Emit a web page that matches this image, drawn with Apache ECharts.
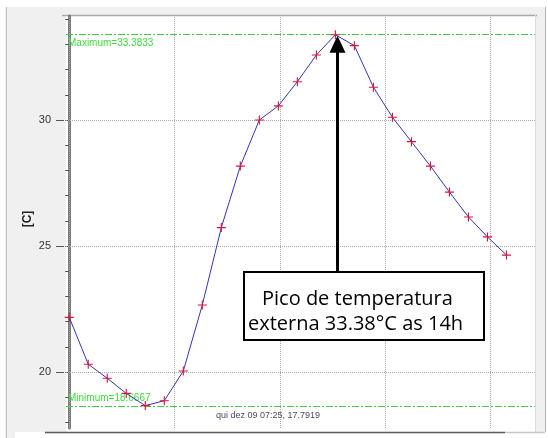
<!DOCTYPE html>
<html><head><meta charset="utf-8">
<script src="https://cdn.jsdelivr.net/npm/echarts@6/dist/echarts.min.js"></script>
<style>html,body{margin:0;padding:0;background:#fff}#c{width:548px;height:438px}</style>
</head><body><div id="c"></div>
<script>
const sampleHours = [0,1,2,3,4,5,6,7,8,9,10,11,12,13,14,15,16,17,18,19,20,21,22,23];
const temperatures = [22.17,20.31,19.75,19.15,18.6667,18.86,20.04,22.66,25.73,28.17,30.0,30.56,31.52,32.58,33.3833,32.95,31.30,30.11,29.14,28.17,27.14,26.15,25.36,24.64];
const yMajorTicks = [20,25,30];
const yMinorTicks = [18,19,20,21,22,23,24,25,26,27,28,29,30,31,32,33,34];
const xGridTicks = [0,5.54,11.08,16.62,22.15];
const maxValue = 33.3833;
const minValue = 18.6667;
const maxLabel = 'Maximum=33.3833';
const minLabel = 'Minimum=18.6667';
const annotationLines = ['Pico de temperatura','externa 33.38°C as 14h'];
const cursorText = 'qui dez 09 07:25, 17.7919';
const yName = '[C]';

const chart = echarts.init(document.getElementById('c'), null, {renderer:'canvas'});
const X_MIN = -0.17, X_MAX = 24.5;
const Y_MIN = 17.778, Y_MAX = 34.127;
const GREEN = '#44cc44';
function gridDotted(){ return {type:'dotted', color:'#a8a8a8', width:1}; }

const bg = [
  {type:'rect', z:-10, shape:{x:0,y:0,width:548,height:7}, style:{fill:'#ffffff'}},
  {type:'rect', z:-10, shape:{x:0,y:0,width:5,height:438}, style:{fill:'#ffffff'}},
  {type:'rect', z:-10, shape:{x:546,y:0,width:2,height:438}, style:{fill:'#ffffff'}},
  {type:'rect', z:-10, shape:{x:15,y:432,width:533,height:6}, style:{fill:'#ffffff'}},
  {type:'line', z:-9, shape:{x1:6.5,y1:7,x2:6.5,y2:438}, style:{stroke:'#c4c4c4',lineWidth:1}},
  {type:'line', z:-9, shape:{x1:545.5,y1:7,x2:545.5,y2:432}, style:{stroke:'#b4b4b4',lineWidth:1}},
  {type:'rect', z:-8, shape:{x:66,y:16,width:469,height:416}, style:{fill:'#ffffff'}},
  {type:'line', z:-7, shape:{x1:62,y1:15.5,x2:537,y2:15.5}, style:{stroke:'#a8a8a8',lineWidth:1.5}},
  {type:'line', z:-7, shape:{x1:535.5,y1:15,x2:535.5,y2:432}, style:{stroke:'#dcdcdc',lineWidth:1}},
  {type:'line', z:-7, shape:{x1:45,y1:432.5,x2:505,y2:432.5}, style:{stroke:'#5a5a5a',lineWidth:1.5}},
  {type:'line', z:-7, shape:{x1:505,y1:432.5,x2:545,y2:432.5}, style:{stroke:'#c8c8c8',lineWidth:1.5}},
  {type:'text', z:50, x:216, y:416, style:{text:cursorText, fill:'#4a4a68', font:'9px "Liberation Sans", Arial, sans-serif', verticalAlign:'middle'}},
  {type:'text', z:50, x:28, y:219, rotation:Math.PI/2,
   style:{text:yName, fill:'#222', font:'bold 12px "Liberation Sans", Arial, sans-serif', align:'center', verticalAlign:'middle'}}
];

const option = {
  backgroundColor:'#f0f0f0',
  animation:false,
  grid:{left:66, right:13, top:16, bottom:10, containLabel:false},
  xAxis:{type:'value', min:X_MIN, max:X_MAX, axisLine:{show:false}, axisTick:{show:false}, axisLabel:{show:false}, splitLine:{show:false}},
  yAxis:[
    {type:'value', min:Y_MIN, max:Y_MAX, position:'left', offset:2,
     axisLine:{show:true, lineStyle:{color:'#7a7a7a', width:3}},
     axisTick:{show:true, customValues:yMinorTicks, length:4, lineStyle:{color:'#555', width:1}},
     axisLabel:{show:false}, splitLine:{show:false}},
    {type:'value', min:Y_MIN, max:Y_MAX, position:'left', offset:2,
     axisLine:{show:false},
     axisTick:{show:true, customValues:yMajorTicks, length:8, lineStyle:{color:'#555', width:1}},
     axisLabel:{show:true, customValues:yMajorTicks, margin:13, color:'#333', fontSize:11, fontFamily:'"Liberation Sans", Arial, sans-serif'},
     splitLine:{show:false}}
  ],
  series:[
    {type:'line', data:[], silent:true, z:1,
     markLine:{silent:true, symbol:'none', animation:false, label:{show:false}, lineStyle:gridDotted(),
       data: xGridTicks.map(v=>({xAxis:v, lineStyle:gridDotted()})).concat(yMajorTicks.map(v=>({yAxis:v, lineStyle:gridDotted()})))}},
    {type:'line', z:5, yAxisIndex:0,
     data: sampleHours.map((h,i)=>[h, temperatures[i]]),
     symbol:'path://M3.5,0h1v8h-1z M0,3.5h8v1h-8z', symbolSize:9, showSymbol:true,
     itemStyle:{color:'#d8163a'},
     lineStyle:{color:'#3535b5', width:1}}
  ],
  graphic: bg
};
chart.setOption(option);

// reference lines (max / min) placed through the axis scales, snapped outward to a pixel row
function refLineGraphics(value, label, dy, snap) {
  const p0 = chart.convertToPixel({gridIndex:0}, [X_MIN, value]);
  const p1 = chart.convertToPixel({gridIndex:0}, [X_MAX, value]);
  const y = snap(p0[1]) + 0.5;
  return [
    {type:'line', z:3, shape:{x1:p0[0], y1:y, x2:p1[0], y2:y},
     style:{stroke:GREEN, lineWidth:1, lineDash:[7,2,2,2]}},
    {type:'text', z:4, x:p0[0]+2, y:y+dy,
     style:{text:label, fill:'#3fdc3f', font:'10px "Liberation Sans Narrow","Liberation Sans", Arial, sans-serif', verticalAlign:'middle'}}
  ];
}

// annotation anchored to peak
let pk = 0;
for (let i=1;i<temperatures.length;i++) if (temperatures[i]>temperatures[pk]) pk=i;
const tip = chart.convertToPixel({gridIndex:0}, [sampleHours[pk], temperatures[pk]]);
const ax = Math.round(tip[0])+2.5, ay = tip[1]+1;
const boxX = 244, boxY = 272, boxW = 240, boxH = 68;
const ann = [
  {type:'line', z:100, shape:{x1:ax,y1:ay+14,x2:ax,y2:boxY}, style:{stroke:'#000',lineWidth:3}},
  {type:'polygon', z:100, shape:{points:[[ax,ay],[ax-8,ay+17],[ax+8,ay+17]]}, style:{fill:'#000'}},
  {type:'rect', z:100, shape:{x:boxX,y:boxY,width:boxW,height:boxH}, style:{fill:'#fff', stroke:'#000', lineWidth:2}},
  {type:'text', z:101, x:262, y:299, style:{text:annotationLines[0], fill:'#000', font:'20px "Open Sans", sans-serif', verticalAlign:'middle'}},
  {type:'text', z:101, x:248, y:324, style:{text:annotationLines[1], fill:'#000', font:'20px "Open Sans", sans-serif', verticalAlign:'middle'}}
];
chart.setOption({graphic: bg.concat(
  refLineGraphics(maxValue, maxLabel, 9, Math.floor),
  refLineGraphics(minValue, minLabel, -8, Math.ceil),
  ann)});
</script></body></html>
